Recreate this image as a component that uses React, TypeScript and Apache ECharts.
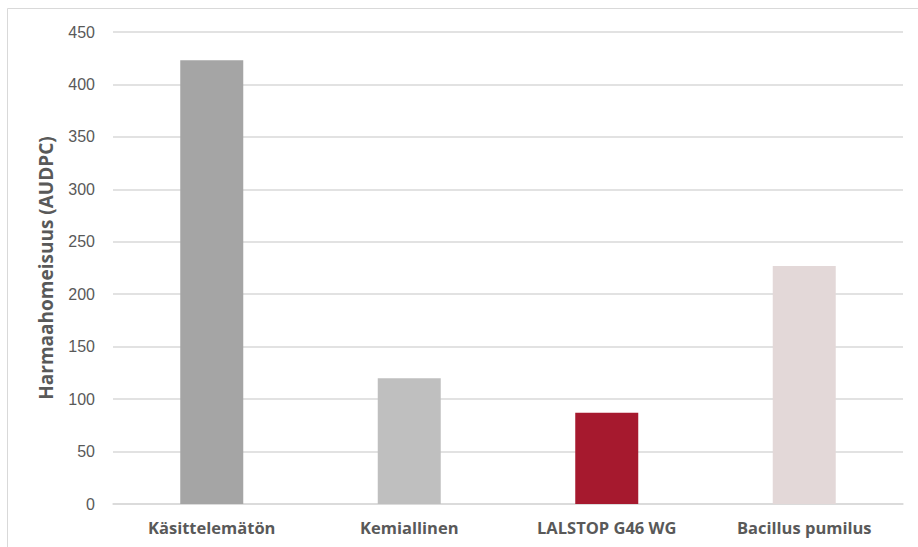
import React, { useEffect, useRef } from "react";
import * as echarts from "echarts";

const categories = ["Käsittelemätön", "Kemiallinen", "LALSTOP G46 WG", "Bacillus pumilus"];
const values = [423, 120, 87, 227];
const barColors = ["#A5A5A5", "#BFBFBF", "#A6192E", "#E3D8D8"];
const yAxisTitle = "Harmaahomeisuus (AUDPC)";

export default function App() {
  const ref = useRef<HTMLDivElement>(null);
  useEffect(() => {
    document.body.style.margin = "0";
    const chart = echarts.init(ref.current!, null, { renderer: "svg" });
    chart.setOption({
      animation: false,
      backgroundColor: "#ffffff",
      graphic: [
        {
          type: "rect",
          shape: { x: 7.5, y: 8.5, width: 1000, height: 1000 },
          style: { fill: "none", stroke: "#D9D9D9", lineWidth: 1 },
          silent: true,
        },
      ],
      grid: { left: 113, right: 15, top: 32, bottom: 43, containLabel: false },
      xAxis: {
        type: "category",
        data: categories,
        axisLine: { show: true, lineStyle: { color: "#D9D9D9", width: 1.5 } },
        axisTick: { show: false },
        axisLabel: {
          color: "#595959",
          fontFamily: "Open Sans",
          fontWeight: "bold",
          fontSize: 16.5,
          margin: 15,
        },
      },
      yAxis: {
        type: "value",
        min: 0,
        max: 450,
        interval: 50,
        name: yAxisTitle,
        nameLocation: "middle",
        nameGap: 58,
        nameRotate: 90,
        nameTextStyle: {
          color: "#595959",
          fontFamily: "Open Sans",
          fontWeight: "bold",
          fontSize: 19,
        },
        axisLine: { show: false },
        axisTick: { show: false },
        splitLine: { lineStyle: { color: "#D9D9D9", width: 1.5 } },
        axisLabel: {
          color: "#595959",
          fontFamily: "Liberation Sans",
          fontSize: 16,
          margin: 18,
        },
      },
      series: [
        {
          type: "bar",
          data: values.map((v, i) => ({ value: v, itemStyle: { color: barColors[i] } })),
          barWidth: 63,
        },
      ],
    });
    return () => chart.dispose();
  }, []);
  return <div ref={ref} style={{ width: 918, height: 547 }} />;
}
